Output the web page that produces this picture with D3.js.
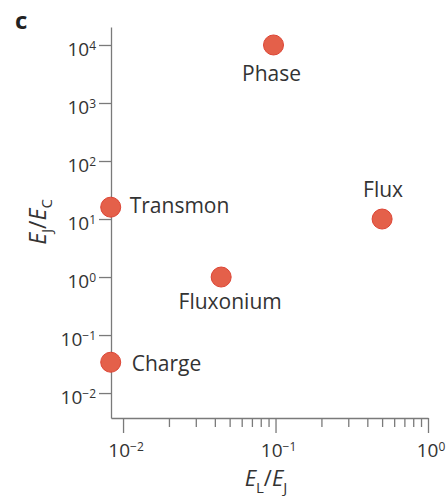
<!DOCTYPE html>
<html>
<head>
<meta charset="utf-8">
<script src="https://cdn.jsdelivr.net/npm/d3@7"></script>
<style>
  body { margin: 0; background: #fff; }
  text { font-family: "Open Sans", sans-serif; fill: #333; }
</style>
</head>
<body>
<div id="chart"></div>
<script>
// Data
const names = ["Phase", "Flux", "Transmon", "Fluxonium", "Charge"];
const elej = [0.097, 0.5, 0.0083, 0.044, 0.0083];
const ejec = [10000, 10, 16, 1.0, 0.034];
const yTicks = [-2, -1, 0, 1, 2, 3, 4];
const xTicks = [-2, -1, 0];

const width = 447, height = 496;

const svg = d3.select("#chart").append("svg")
  .attr("width", width)
  .attr("height", height);

// Scales
const x = d3.scaleLog().domain([Math.pow(10, -2.079), 1]).range([111, 428]);
const y = d3.scaleLog().domain([Math.pow(10, -2.43), Math.pow(10, 4.31)]).range([418, 27]);

// minor ticks on x
const minor = [];
[0.01, 0.1].forEach(b => { for (let k = 2; k <= 9; k++) minor.push(b * k); });

// y axis
svg.append("g")
  .attr("transform", "translate(111,0)")
  .call(d3.axisLeft(y).tickValues(yTicks.map(e => Math.pow(10, e))).tickFormat("").tickSize(12).tickSizeOuter(0));

// x axis, major + minor
svg.append("g")
  .attr("transform", "translate(0,418)")
  .call(d3.axisBottom(x).tickValues(xTicks.map(e => Math.pow(10, e))).tickFormat("").tickSize(15).tickSizeOuter(0));
svg.append("g")
  .attr("transform", "translate(0,418)")
  .call(d3.axisBottom(x).tickValues(minor).tickFormat("").tickSize(9).tickSizeOuter(0))
  .select(".domain").remove();

svg.selectAll(".domain, .tick line").attr("stroke", "#7a7a7a").attr("stroke-width", 1.3);

// tick labels
function powLabel(sel, e) {
  sel.append("tspan").text("10");
  sel.append("tspan").attr("dy", "-0.5em").style("font-size", "12px").text(e < 0 ? "\u2212" + (-e) : e);
}
yTicks.forEach(e => {
  const t = svg.append("text")
    .attr("x", 96).attr("y", y(Math.pow(10, e)) + 11)
    .attr("text-anchor", "end")
    .style("font-size", "19px");
  powLabel(t, e);
});
xTicks.forEach(e => {
  const t = svg.append("text")
    .attr("x", x(Math.pow(10, e)) + 3).attr("y", 457)
    .attr("text-anchor", "middle")
    .style("font-size", "19px");
  powLabel(t, e);
});

// points
svg.selectAll(".pt")
  .data(names)
  .enter().append("circle")
  .attr("class", "pt")
  .attr("cx", (d, i) => x(elej[i]))
  .attr("cy", (d, i) => y(ejec[i]))
  .attr("r", 10)
  .attr("fill", "#e4604a")
  .attr("stroke", "#dd4434")
  .attr("stroke-width", 1);

// point labels
const lab = {
  Phase: { dx: -2, dy: 36, anchor: "middle" },
  Flux: { dx: 1, dy: -22, anchor: "middle" },
  Transmon: { dx: 19, dy: 6, anchor: "start" },
  Fluxonium: { dx: 9, dy: 32, anchor: "middle" },
  Charge: { dx: 21, dy: 9, anchor: "start" }
};
names.forEach((n, i) => {
  svg.append("text")
    .attr("x", x(elej[i]) + lab[n].dx)
    .attr("y", y(ejec[i]) + lab[n].dy)
    .attr("text-anchor", lab[n].anchor)
    .style("font-size", "21px")
    .text(n);
});

// axis titles
const yl = svg.append("text")
  .attr("transform", "translate(46,222) rotate(-90)")
  .attr("text-anchor", "middle")
  .style("font-size", "23px");
yl.append("tspan").style("font-style", "italic").text("E");
yl.append("tspan").attr("dy", 6).style("font-size", "15px").text("J");
yl.append("tspan").attr("dy", -6).text("/");
yl.append("tspan").style("font-style", "italic").text("E");
yl.append("tspan").attr("dy", 6).style("font-size", "15px").text("C");

const xl = svg.append("text")
  .attr("x", 266).attr("y", 486)
  .attr("text-anchor", "middle")
  .style("font-size", "22px");
xl.append("tspan").style("font-style", "italic").text("E");
xl.append("tspan").attr("dy", 7).style("font-size", "15px").text("L");
xl.append("tspan").attr("dy", -7).text("/");
xl.append("tspan").style("font-style", "italic").text("E");
xl.append("tspan").attr("dy", 7).style("font-size", "15px").text("J");

// panel letter
svg.append("text")
  .attr("x", 15).attr("y", 29)
  .style("font-size", "24px")
  .style("font-weight", "bold")
  .style("fill", "#222")
  .text("c");
</script>
</body>
</html>
